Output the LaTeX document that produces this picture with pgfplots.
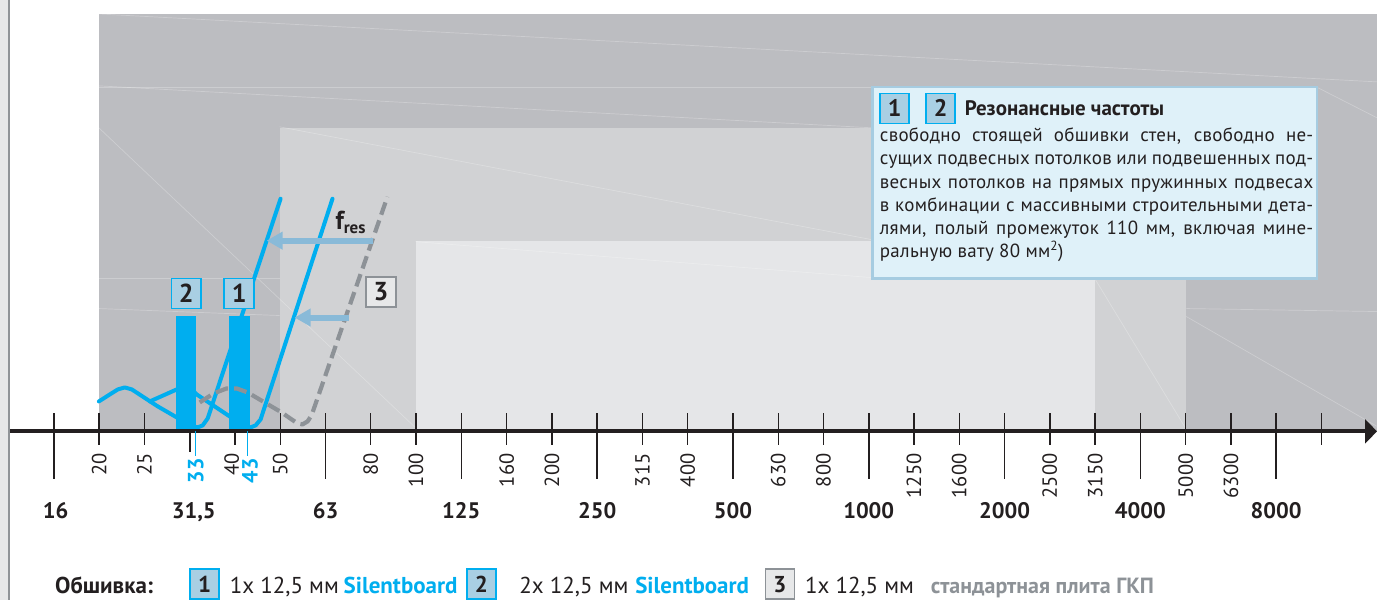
\documentclass[border=0pt]{standalone}
\usepackage{fontspec}
\setmainfont{PT Sans}
\newfontfamily\boxfont[LetterSpace=1.5]{PT Sans}
\usepackage{pgfplots}
\pgfplotsset{compat=1.18}
\usetikzlibrary{arrows.meta}
\definecolor{cyanc}{HTML}{00AEEF}
\definecolor{lbox}{HTML}{A9CFE3}
\definecolor{tc}{HTML}{231F20}
\definecolor{gA}{HTML}{BCBDC1}
\definecolor{gB}{HTML}{D1D2D4}
\definecolor{gC}{HTML}{E5E6E8}
\definecolor{dg}{HTML}{8D9297}
\definecolor{arrowc}{HTML}{89BAD8}
\definecolor{boxbg}{HTML}{DFF1F9}
\definecolor{boxbd}{HTML}{A6CCE1}
\definecolor{strip}{HTML}{E6E7E8}
\definecolor{stripd}{HTML}{8F9397}
\definecolor{boxg}{HTML}{E7E8E9}
\newcommand\ix[1]{((#1)-54)/45.3333}
\newcommand\iy[1]{(432-(#1))}
\newcommand\fs[1]{\fontsize{#1bp}{#1bp}\selectfont}
\tikzset{
  minl/.style={rotate=90, anchor=east, inner sep=0, text=tc, font=\fs{20.5}},
  majl/.style={anchor=base, inner sep=0, text=tc, font=\fs{22.5}\bfseries},
  nb/.style={draw=cyanc, fill=lbox, line width=1.5bp, minimum width=30bp, minimum height=30bp, inner sep=0, text=tc, font=\fs{26}\bfseries},
  nbg/.style={nb, draw=dg, fill=boxg},
}
\begin{document}
\begin{tikzpicture}
\begin{axis}[
  width=1379bp, height=601bp, scale only axis,
  xmin=-1.19118, xmax=29.2279, ymin=-169, ymax=432,
  hide axis, clip=false,
  every axis plot/.append style={mark=none},
]
% page background
\fill[white] (rel axis cs:0,0) rectangle (rel axis cs:1,1);
\fill[strip] (axis cs:{\ix{0}},-169) rectangle (axis cs:{\ix{8}},432);
\fill[stripd] (axis cs:{\ix{8}},-169) rectangle (axis cs:{\ix{10.5}},432);
% frequency ranges (band index: 16 Hz = 0, 20 Hz = 1, ...)
\addplot[fill=gA, draw=none] coordinates {(1,0) (29.2279,0) (29.2279,418) (1,418)} --cycle;
\addplot[fill=gB, draw=none] coordinates {(5,0) (25,0) (25,304) (5,304)} --cycle;
\addplot[fill=gC, draw=none] coordinates {(8,0) (23,0) (23,191) (8,191)} --cycle;
% faint decorative lines
\begin{scope}[white, opacity=0.25, line width=0.7bp]
\draw (axis cs:{\ix{99}},{\iy{14}}) -- (axis cs:{\ix{1379}},{\iy{82}});
\draw (axis cs:{\ix{99}},{\iy{87}}) -- (axis cs:{\ix{873}},{\iy{87}});
\draw (axis cs:{\ix{99}},{\iy{86}}) -- (axis cs:{\ix{873}},{\iy{128}});
\draw (axis cs:{\ix{99}},{\iy{128}}) -- (axis cs:{\ix{420}},{\iy{432}});
\draw (axis cs:{\ix{280}},{\iy{127}}) -- (axis cs:{\ix{873}},{\iy{240}});
\draw (axis cs:{\ix{416}},{\iy{242}}) -- (axis cs:{\ix{873}},{\iy{278}});
\draw (axis cs:{\ix{1097}},{\iy{280}}) -- (axis cs:{\ix{1188}},{\iy{430}});
\draw (axis cs:{\ix{1188}},{\iy{317}}) -- (axis cs:{\ix{1379}},{\iy{427}});
\draw (axis cs:{\ix{1188}},{\iy{309}}) -- (axis cs:{\ix{1379}},{\iy{312}});
\draw (axis cs:{\ix{1320}},{\iy{88}}) -- (axis cs:{\ix{1379}},{\iy{118}});
\draw (axis cs:{\ix{99}},{\iy{279}}) -- (axis cs:{\ix{280}},{\iy{279}});
\draw (axis cs:{\ix{99}},{\iy{309}}) -- (axis cs:{\ix{280}},{\iy{316}});
\end{scope}
% ticks
\pgfplotsinvokeforeach{1,2,4,5,7,8,10,11,13,14,16,17,19,20,22,23,25,26,28}{
  \draw[tc, line width=1.4bp] (axis cs:#1,18) -- (axis cs:#1,-14);
}
\pgfplotsinvokeforeach{0,6,9,12,15,18,21,24,27}{
  \draw[tc, line width=1.6bp] (axis cs:#1,18) -- (axis cs:#1,-48);
}
\draw[tc, line width=1.6bp] (axis cs:3,18) -- (axis cs:3,-21);
% resonance bars
\addplot[fill=cyanc, draw=none] coordinates {(2.691,0) (3.132,0) (3.132,116) (2.691,116)} --cycle;
\addplot[fill=cyanc, draw=none] coordinates {(3.860,0) (4.324,0) (4.324,116) (3.860,116)} --cycle;
% curve 2 (2x 12,5 mm Silentboard, 33 Hz)
\addplot[cyanc, line width=4bp, line join=round, line cap=round] coordinates {
(0.993,30) (1.235,37) (1.412,42) (1.566,44) (1.721,42) (2.294,25) (2.713,14)
(2.956,8) (3.088,5) (3.176,4) (3.287,6) (3.397,13) (5.007,233)};
% curve 1 (1x 12,5 mm Silentboard, 43 Hz)
\addplot[cyanc, line width=4bp, line join=round, line cap=round] coordinates {
(2.118,30) (2.515,38) (2.713,42) (2.868,46) (3.000,44) (3.154,37) (3.882,15)
(4.103,8) (4.235,5) (4.346,4) (4.456,6) (4.566,12) (6.154,233)};
% curve 3 (standard plasterboard)
\addplot[dg, line width=4.2bp, line join=round, dash pattern=on 13bp off 6bp] coordinates {
(3.221,29) (3.529,38) (3.816,43) (4.037,43) (4.279,39) (4.654,29) (5.029,19)
(5.250,12) (5.382,8) (5.493,7) (5.603,10) (5.691,16) (7.368,235)};
% shift arrows
\draw[arrowc, line width=6bp, -{Triangle[length=16bp,width=17bp]}] (axis cs:{\ix{374}},{\iy{241}}) -- (axis cs:{\ix{267}},{\iy{241}});
\draw[arrowc, line width=6bp, -{Triangle[length=16bp,width=17bp]}] (axis cs:{\ix{349}},{\iy{318}}) -- (axis cs:{\ix{295}},{\iy{318}});
\node[anchor=base west, inner sep=0, text=tc] at (axis cs:{\ix{336}},{\iy{230}}) {\fs{26}\bfseries f\kern-0.3bp\raisebox{-4bp}{\fs{17}\bfseries res}};
% curve labels
\node[nb] at (axis cs:{\ix{186.5}},{\iy{294}}) {2};
\node[nb] at (axis cs:{\ix{239.5}},{\iy{294}}) {1};
\node[nbg] at (axis cs:{\ix{381.5}},{\iy{292.5}}) {3};
% x axis line
\draw[tc, line width=4bp, -{Triangle[length=12bp,width=24bp]}] (axis cs:{\ix{10}},0) -- (axis cs:{\ix{1379}},0);
% resonance markers
\draw[cyanc, line width=1.2bp] (axis cs:{\ix{196}},0) -- (axis cs:{\ix{196}},{\iy{457}});
\draw[cyanc, line width=1.2bp] (axis cs:{\ix{248}},0) -- (axis cs:{\ix{248}},{\iy{457}});
\node[minl, text=cyanc, font=\fs{22}\bfseries] at (axis cs:{\ix{196}},{\iy{459}}) {33};
\node[minl, text=cyanc, font=\fs{22}\bfseries] at (axis cs:{\ix{250.5}},{\iy{459}}) {43};
% third-octave labels
\node[minl] at (axis cs:1,-22) {20};
\node[minl] at (axis cs:2,-22) {25};
\node[minl] at (axis cs:3.926,-22) {40};
\node[minl] at (axis cs:5,-22) {50};
\node[minl] at (axis cs:7,-22) {80};
\node[minl] at (axis cs:8,-22) {100};
\node[minl] at (axis cs:10,-22) {160};
\node[minl] at (axis cs:11,-22) {200};
\node[minl] at (axis cs:13,-22) {315};
\node[minl] at (axis cs:14,-22) {400};
\node[minl] at (axis cs:16,-22) {630};
\node[minl] at (axis cs:17,-22) {800};
\node[minl] at (axis cs:19,-22) {1250};
\node[minl] at (axis cs:20,-22) {1600};
\node[minl] at (axis cs:22,-22) {2500};
\node[minl] at (axis cs:23,-22) {3150};
\node[minl] at (axis cs:25,-22) {5000};
\node[minl] at (axis cs:26,-22) {6300};
% octave labels
\node[majl] at (axis cs:0.04,-87) {16};
\node[majl] at (axis cs:{\ix{194}},-87) {31,5};
\node[majl] at (axis cs:6,-87) {63};
\node[majl] at (axis cs:9,-87) {125};
\node[majl] at (axis cs:12,-87) {250};
\node[majl] at (axis cs:15,-87) {500};
\node[majl] at (axis cs:18,-87) {1000};
\node[majl] at (axis cs:21,-87) {2000};
\node[majl] at (axis cs:24,-87) {4000};
\node[majl] at (axis cs:27,-87) {8000};
% info box
\draw[fill=boxbg, draw=boxbd, line width=2.5bp] (axis cs:{\ix{874}},{\iy{87}}) rectangle (axis cs:{\ix{1319}},{\iy{279}});
\node[nb, minimum width=29bp, minimum height=30bp, font=\fs{24}\bfseries] at (axis cs:{\ix{896}},{\iy{108.5}}) {1};
\node[nb, minimum width=29bp, minimum height=30bp, font=\fs{24}\bfseries] at (axis cs:{\ix{942}},{\iy{108.5}}) {2};
\node[anchor=base west, inner sep=0, text=tc] at (axis cs:{\ix{966}},{\iy{116}}) {\fs{21}\bfseries Резонансные частоты};
\node[anchor=base west, inner sep=0, text=tc] at (axis cs:{\ix{881}},{\iy{141.7}}) {\boxfont\fs{19}\hbox to 434bp{свободно стоящей обшивки стен, свободно не-}};
\node[anchor=base west, inner sep=0, text=tc] at (axis cs:{\ix{881}},{\iy{165}}) {\boxfont\fs{19}\hbox to 434bp{сущих подвесных потолков или подвешенных под-}};
\node[anchor=base west, inner sep=0, text=tc] at (axis cs:{\ix{881}},{\iy{188.3}}) {\boxfont\fs{19}\hbox to 434bp{весных потолков на прямых пружинных подвесах}};
\node[anchor=base west, inner sep=0, text=tc] at (axis cs:{\ix{881}},{\iy{211.6}}) {\boxfont\fs{19}\hbox to 434bp{в комбинации с массивными строительными дета-}};
\node[anchor=base west, inner sep=0, text=tc] at (axis cs:{\ix{881}},{\iy{234.9}}) {\boxfont\fs{19}\hbox to 434bp{лями, полый промежуток 110 мм, включая мине-}};
\node[anchor=base west, inner sep=0, text=tc] at (axis cs:{\ix{881}},{\iy{258.2}}) {\boxfont\fs{19}ральную вату 80 мм\textsuperscript{2})};
% footer legend
\node[anchor=base west, inner sep=0, text=tc] at (axis cs:{\ix{55}},{\iy{594}}) {\fs{23}\bfseries Обшивка:};
\node[nb, minimum width=29bp, font=\fs{23}\bfseries] at (axis cs:{\ix{205}},{\iy{585}}) {1};
\node[anchor=base west, inner sep=0, text=tc] at (axis cs:{\ix{230}},{\iy{594}}) {\fs{23}1x 12,5 мм};
\node[anchor=base west, inner sep=0, text=cyanc] at (axis cs:{\ix{344}},{\iy{594}}) {\fs{23}\bfseries Silentboard};
\node[nb, minimum width=29bp, font=\fs{23}\bfseries] at (axis cs:{\ix{482}},{\iy{585}}) {2};
\node[anchor=base west, inner sep=0, text=tc] at (axis cs:{\ix{520}},{\iy{594}}) {\fs{23}2x 12,5 мм};
\node[anchor=base west, inner sep=0, text=cyanc] at (axis cs:{\ix{636}},{\iy{594}}) {\fs{23}\bfseries Silentboard};
\node[nbg, minimum width=29bp, font=\fs{23}\bfseries] at (axis cs:{\ix{781}},{\iy{585}}) {3};
\node[anchor=base west, inner sep=0, text=tc] at (axis cs:{\ix{806}},{\iy{594}}) {\fs{23}1x 12,5 мм};
\node[anchor=base west, inner sep=0, text=dg] at (axis cs:{\ix{932}},{\iy{594}}) {\fs{22}\bfseries стандартная плита ГКП};
\end{axis}
\end{tikzpicture}
\end{document}
